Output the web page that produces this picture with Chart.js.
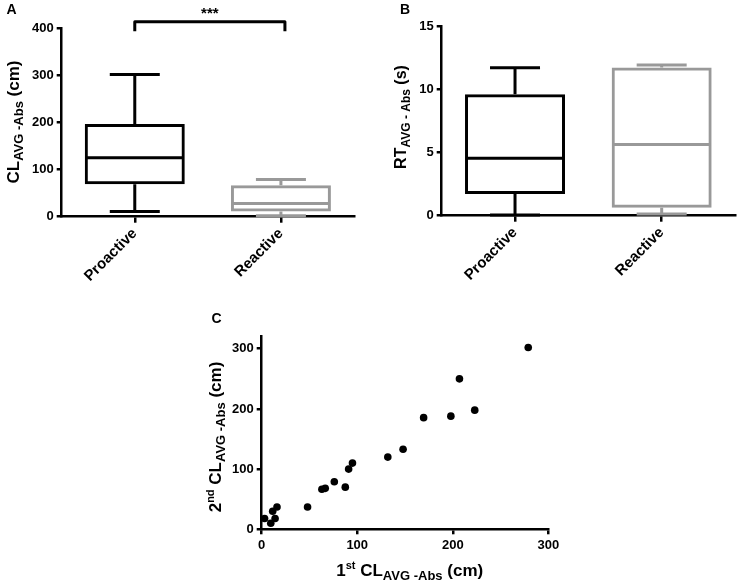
<!DOCTYPE html>
<html>
<head>
<meta charset="utf-8">
<script src="https://cdn.jsdelivr.net/npm/chart.js@4.4.1/dist/chart.umd.min.js"></script>
<style>
  html, body { margin: 0; padding: 0; background: #fff; }
  #wrap { position: relative; width: 737px; height: 583px; }
  .panel { position: absolute; }
</style>
</head>
<body>
<div id="wrap">
  <div class="panel" style="left:0;top:0;width:370px;height:290px"><canvas id="chartA"></canvas></div>
  <div class="panel" style="left:370px;top:0;width:367px;height:290px"><canvas id="chartB"></canvas></div>
  <div class="panel" style="left:180px;top:290px;width:400px;height:293px"><canvas id="chartC"></canvas></div>
</div>
<script>
// groups
const groups = ['Proactive', 'Reactive'];
const groupColors = ['#000', '#999'];

// A: CL AVG-Abs (cm) box plot
const clMin = [11, 2];
const clQ1 = [69, 11];
const clMed = [125, 28];
const clQ3 = [197, 67];
const clMax = [302, 79];

// B: RT AVG-Abs (s) box plot
const rtMin = [0.05, 0.13];
const rtQ1 = [1.72, 0.63];
const rtMed = [4.55, 5.66];
const rtQ3 = [9.63, 11.77];
const rtMax = [11.75, 11.96];

// C: 1st vs 2nd CL AVG-Abs (cm)
const firstCL = [3, 9.5, 11.5, 14, 16, 48, 63, 66.5, 76, 87.5, 91, 95, 132, 148, 169.5, 198, 207, 223, 279];
const secondCL = [18, 10, 30, 18, 37, 37, 66.5, 68, 79, 70, 100, 110, 120, 133, 185.5, 188, 250, 198, 302];

const FONT = '"Liberation Sans", Arial, Helvetica, sans-serif';
Chart.defaults.font.family = FONT;
Chart.defaults.font.weight = 'bold';
Chart.defaults.color = '#000';
Chart.defaults.animation = false;

// text with sub/superscripts, centred on (cx, cy) baseline
function drawRich(ctx, parts, cx, cy, rotate) {
  ctx.save();
  ctx.translate(cx, cy);
  if (rotate) ctx.rotate(-Math.PI / 2);
  let total = 0;
  parts.forEach(p => {
    ctx.font = 'bold ' + p.size + 'px ' + FONT;
    p.w = ctx.measureText(p.t).width;
    total += p.w;
  });
  let x = -total / 2;
  ctx.fillStyle = '#000';
  ctx.textBaseline = 'alphabetic';
  ctx.textAlign = 'left';
  parts.forEach(p => {
    ctx.font = 'bold ' + p.size + 'px ' + FONT;
    ctx.fillText(p.t, x, p.dy || 0);
    x += p.w;
  });
  ctx.restore();
}

const boxWhiskers = {
  id: 'boxWhiskers',
  afterDatasetsDraw(chart, args, o) {
    if (!o.min) return;
    const ctx = chart.ctx;
    const y = chart.scales.y;
    const meta = chart.getDatasetMeta(0);
    ctx.save();
    ctx.lineWidth = 3;
    o.min.forEach((v, i) => {
      const bar = meta.data[i];
      const cx = bar.x, half = bar.width / 2 - 1.5, cap = bar.width / 4;
      const py = val => y.getPixelForValue(val);
      ctx.strokeStyle = groupColors[i];
      ctx.beginPath();
      ctx.moveTo(cx - half, py(o.med[i])); ctx.lineTo(cx + half, py(o.med[i]));
      ctx.moveTo(cx, py(o.q3[i])); ctx.lineTo(cx, py(o.max[i]));
      ctx.moveTo(cx - cap, py(o.max[i])); ctx.lineTo(cx + cap, py(o.max[i]));
      ctx.moveTo(cx, py(o.q1[i])); ctx.lineTo(cx, py(o.min[i]));
      ctx.moveTo(cx - cap, py(o.min[i])); ctx.lineTo(cx + cap, py(o.min[i]));
      ctx.stroke();
    });
    ctx.restore();
  }
};

const decorations = {
  id: 'decorations',
  afterDraw(chart, args, o) {
    const ctx = chart.ctx;
    ctx.save();
    ctx.fillStyle = '#000';
    ctx.font = 'bold 14px ' + FONT;
    ctx.textAlign = 'left';
    ctx.fillText(o.letter, o.letterX, o.letterY);
    ctx.restore();
    if (o.yTitle) drawRich(ctx, o.yTitle, o.yTitleX, o.yTitleY, true);
    if (o.xTitle) drawRich(ctx, o.xTitle, o.xTitleX, o.xTitleY, false);
    if (o.bracket) {
      const x = chart.scales.x, y = chart.scales.y;
      const x0 = x.getPixelForValue(0), x1 = x.getPixelForValue(1);
      const top = y.getPixelForValue(o.bracket[0]), end = y.getPixelForValue(o.bracket[1]);
      ctx.save();
      ctx.strokeStyle = '#000';
      ctx.lineWidth = 3;
      ctx.lineJoin = 'round';
      ctx.beginPath();
      ctx.moveTo(x0, end); ctx.lineTo(x0, top); ctx.lineTo(x1 + 4, top); ctx.lineTo(x1 + 4, end);
      ctx.stroke();
      ctx.font = 'bold 15px ' + FONT;
      ctx.textAlign = 'center';
      ctx.fillStyle = '#000';
      ctx.fillText(o.stars, (x0 + x1) / 2 + 2, top - 4);
      ctx.restore();
    }
  }
};

function axisStyle(extra) {
  return Object.assign({
    grid: { drawOnChartArea: false, drawTicks: true, tickLength: 5, color: '#000', lineWidth: 2.5 },
    border: { display: true, color: '#000', width: 2.5 }
  }, extra);
}

function boxChart(id, mins, q1, med, q3, maxs, yMax, step, pad, yWidth, xHeight, deco) {
  return new Chart(document.getElementById(id), {
    type: 'bar',
    data: {
      labels: groups,
      datasets: [{
        data: groups.map((g, i) => [q1[i], q3[i]]),
        backgroundColor: 'rgba(0,0,0,0)',
        borderColor: groupColors,
        borderWidth: 3,
        borderSkipped: false,
        barThickness: 100,
        inflateAmount: 0
      }]
    },
    options: {
      responsive: true,
      maintainAspectRatio: false,
      layout: { padding: pad },
      plugins: {
        legend: { display: false },
        tooltip: { enabled: false },
        boxWhiskers: { min: mins, q1: q1, med: med, q3: q3, max: maxs },
        decorations: deco
      },
      scales: {
        x: axisStyle({
          offset: true,
          grid: { offset: false, drawOnChartArea: false, tickLength: 6, color: '#000', lineWidth: 2.5 },
          ticks: { minRotation: 45, maxRotation: 45, padding: 2, font: { size: 15, weight: 'bold' }, color: '#000' },
          afterFit: s => { s.height = xHeight; }
        }),
        y: axisStyle({
          min: 0, max: yMax,
          ticks: { stepSize: step, padding: 3, font: { size: 13, weight: 'bold' }, color: '#000' },
          afterFit: s => { s.width = yWidth; }
        })
      }
    },
    plugins: [boxWhiskers, decorations]
  });
}

boxChart('chartA', clMin, clQ1, clMed, clQ3, clMax, 400, 100,
  { top: 28.3, right: 16, left: 0, bottom: 0 }, 61.7, 73.3, {
    letter: 'A', letterX: 6.5, letterY: 13.5,
    yTitle: [{ t: 'CL', size: 17 }, { t: 'AVG -Abs', size: 13, dy: 4.5 }, { t: ' (cm)', size: 17 }],
    yTitleX: 18.5, yTitleY: 122,
    bracket: [414, 394], stars: '***'
  });

boxChart('chartB', rtMin, rtQ1, rtMed, rtQ3, rtMax, 15, 5,
  { top: 26.7, right: 2, left: 0, bottom: 0 }, 71.7, 74.3, {
    letter: 'B', letterX: 30, letterY: 13.5,
    yTitle: [{ t: 'RT', size: 16 }, { t: 'AVG - Abs', size: 12, dy: 4.5 }, { t: ' (s)', size: 16 }],
    yTitleX: 35.5, yTitleY: 117
  });

new Chart(document.getElementById('chartC'), {
  type: 'scatter',
  data: {
    datasets: [{
      data: firstCL.map((v, i) => ({ x: v, y: secondCL[i] })),
      backgroundColor: '#000',
      borderWidth: 0,
      pointRadius: 3.8,
      clip: false
    }]
  },
  options: {
    responsive: true,
    maintainAspectRatio: false,
    layout: { padding: { top: 46.7, right: 31.7, left: 0, bottom: 0 } },
    plugins: {
      legend: { display: false },
      tooltip: { enabled: false },
      decorations: {
        letter: 'C', letterX: 31.5, letterY: 33,
        yTitle: [{ t: '2', size: 17 }, { t: 'nd', size: 11, dy: -7 }, { t: ' CL', size: 17 }, { t: 'AVG -Abs', size: 13, dy: 4.5 }, { t: ' (cm)', size: 17 }],
        yTitleX: 40.5, yTitleY: 147,
        xTitle: [{ t: '1', size: 17 }, { t: 'st', size: 11, dy: -7 }, { t: ' CL', size: 17 }, { t: 'AVG -Abs', size: 13, dy: 4.5 }, { t: ' (cm)', size: 17 }],
        xTitleX: 229.7, xTitleY: 285.7
      }
    },
    scales: {
      x: axisStyle({
        type: 'linear', min: 0, max: 300,
        ticks: { stepSize: 100, padding: 3, font: { size: 13, weight: 'bold' }, color: '#000' },
        afterFit: s => { s.height = 53.7; }
      }),
      y: axisStyle({
        type: 'linear', min: 0, max: 320,
        ticks: { stepSize: 100, includeBounds: false, padding: 3, font: { size: 13, weight: 'bold' }, color: '#000' },
        afterFit: s => { s.width = 81.7; }
      })
    }
  },
  plugins: [decorations]
});
</script>
</body>
</html>
